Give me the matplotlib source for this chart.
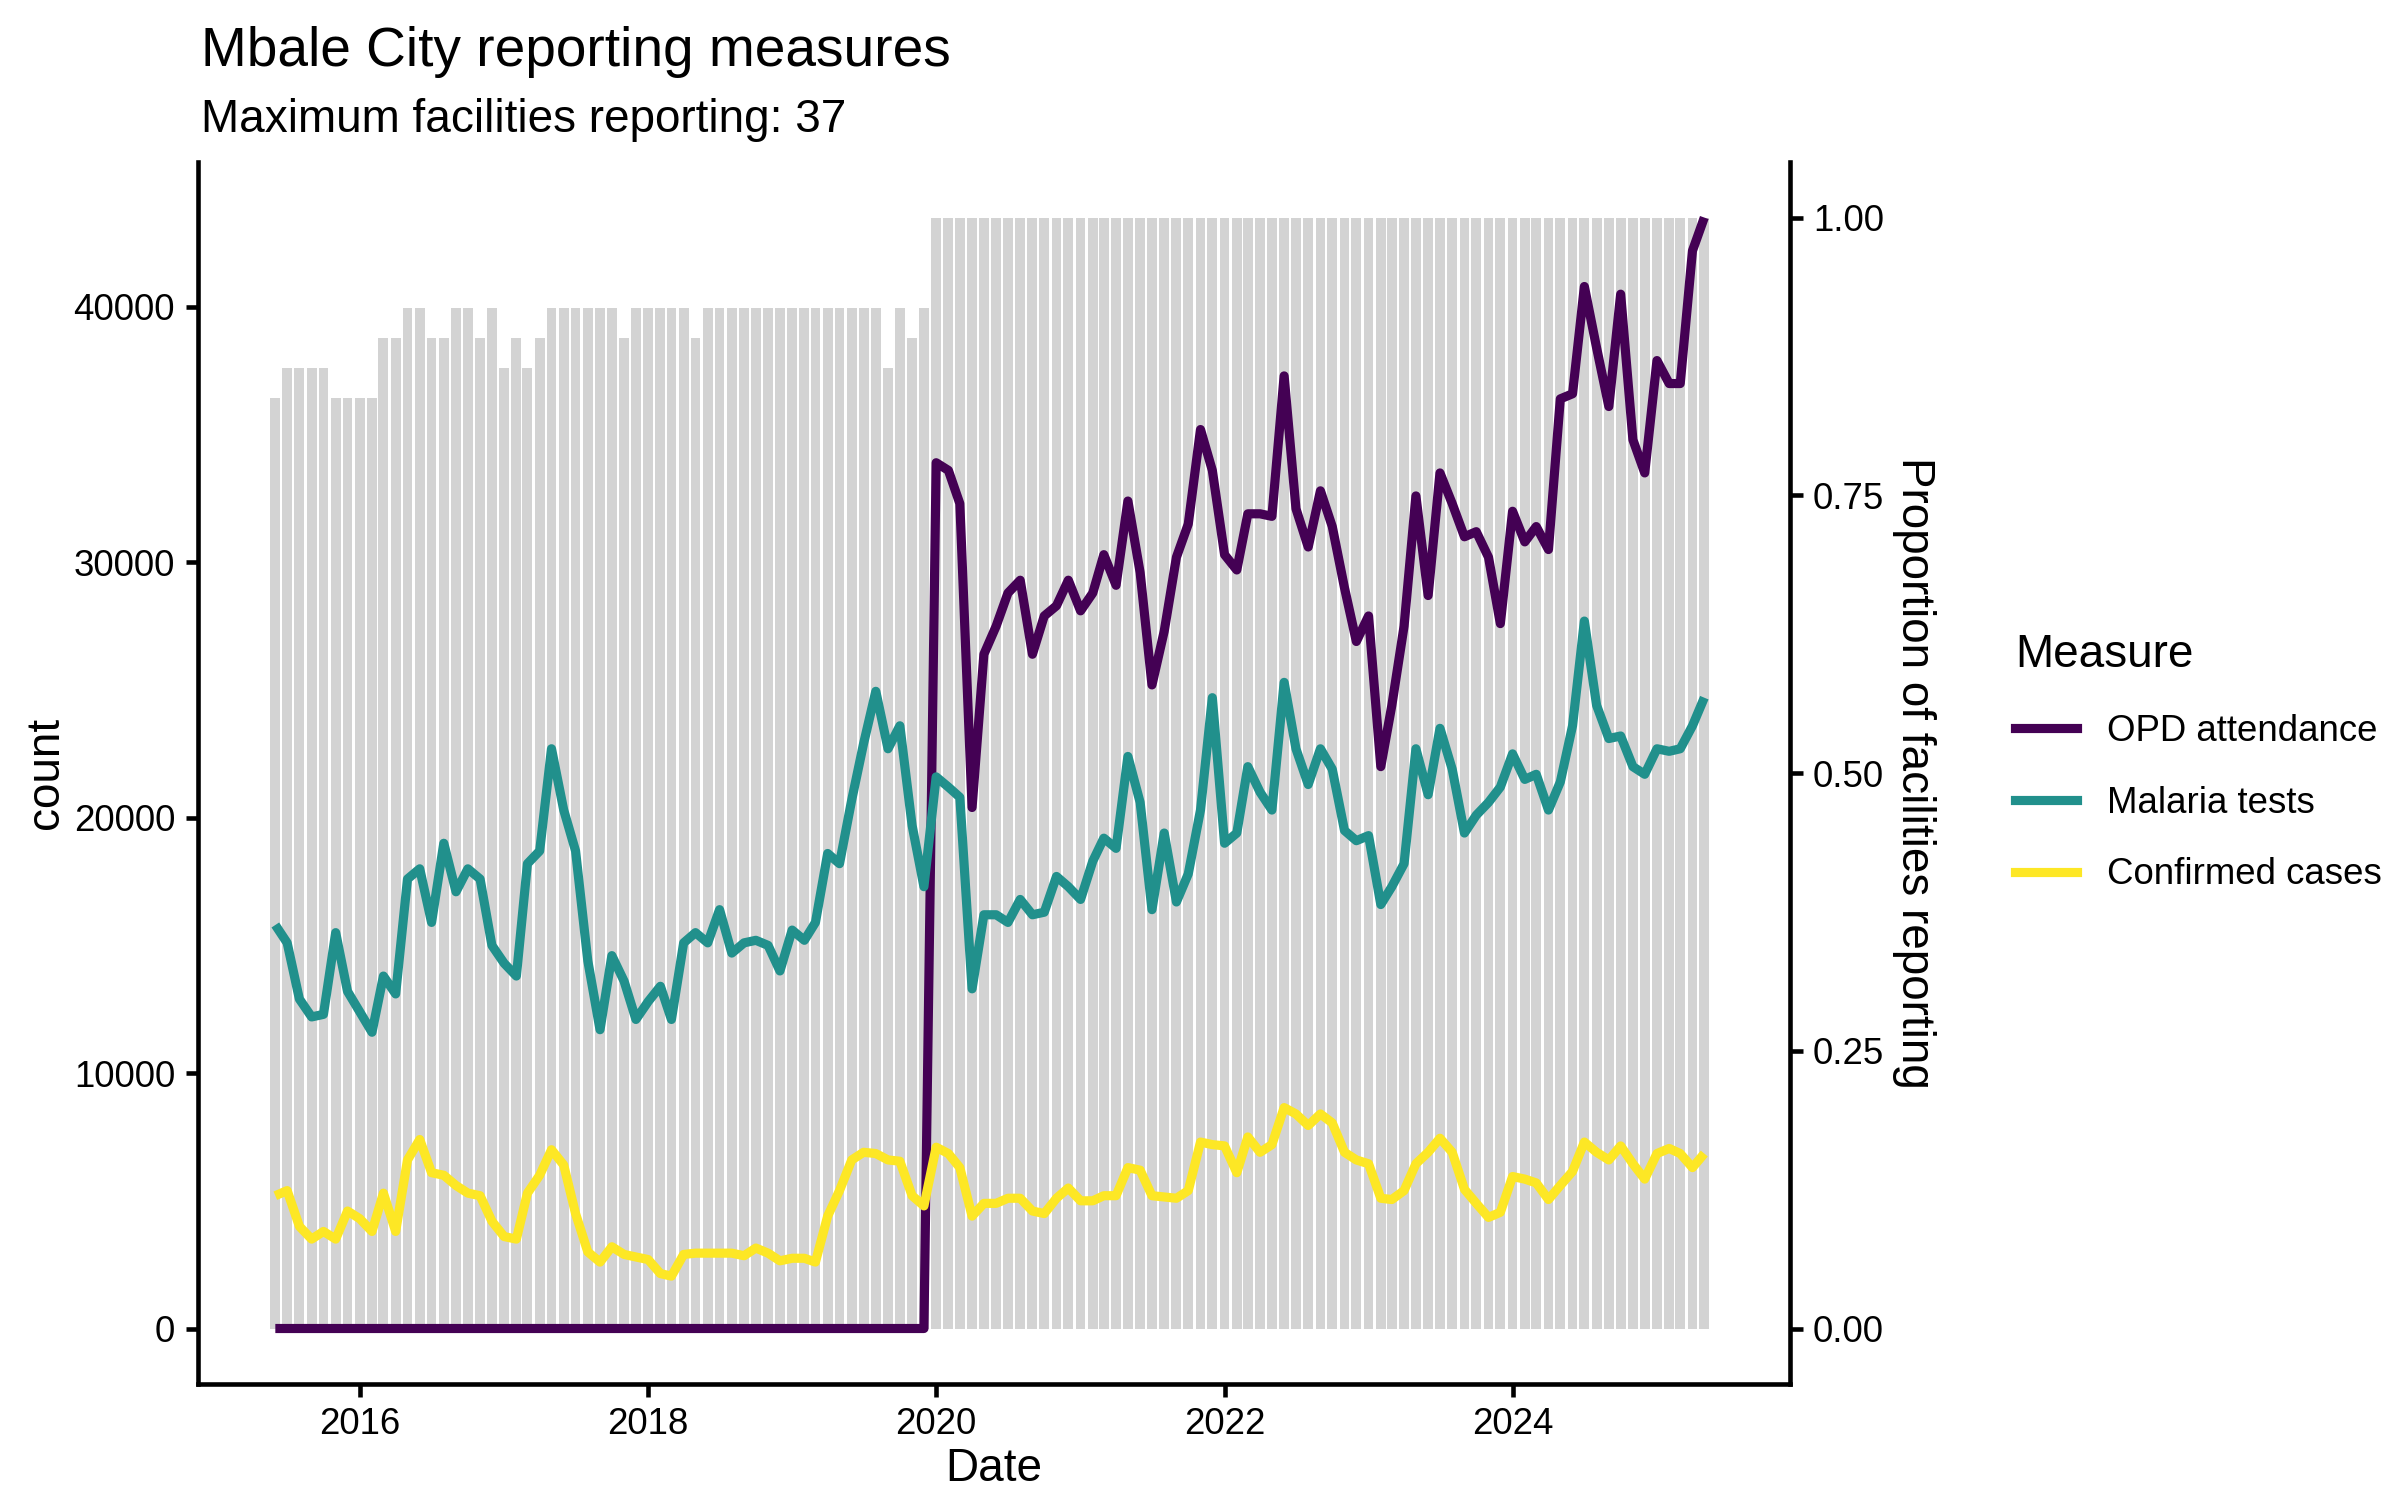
import matplotlib
matplotlib.use("Agg")
import matplotlib.pyplot as plt
import matplotlib.dates as mdates
from matplotlib.lines import Line2D
import pandas as pd

plt.rcParams["font.family"] = ["Liberation Sans", "DejaVu Sans"]

# Месяцы: 2015-06 .. 2025-05
dates = pd.date_range("2015-06-01", periods=120, freq="MS")

max_facilities = 37

# Число отчитавшихся учреждений по месяцам
facilities = [
    31, 32, 32, 32, 32, 31, 31, 31, 31, 33, 33, 34, 34, 33, 33, 34, 34, 33, 34, 32,
    33, 32, 33, 34, 34, 34, 34, 34, 34, 33, 34, 34, 34, 34, 34, 33, 34, 34, 34, 34,
    34, 34, 34, 34, 34, 34, 34, 34, 34, 34, 34, 32, 34, 33, 34, 37, 37, 37, 37, 37,
    37, 37, 37, 37, 37, 37, 37, 37, 37, 37, 37, 37, 37, 37, 37, 37, 37, 37, 37, 37,
    37, 37, 37, 37, 37, 37, 37, 37, 37, 37, 37, 37, 37, 37, 37, 37, 37, 37, 37, 37,
    37, 37, 37, 37, 37, 37, 37, 37, 37, 37, 37, 37, 37, 37, 37, 37, 37, 37, 37, 37,
]

opd_attendance = [
    0, 0, 0, 0, 0, 0, 0, 0, 0, 0, 0, 0, 0, 0, 0, 0, 0, 0, 0, 0,
    0, 0, 0, 0, 0, 0, 0, 0, 0, 0, 0, 0, 0, 0, 0, 0, 0, 0, 0, 0,
    0, 0, 0, 0, 0, 0, 0, 0, 0, 0, 0, 0, 0, 0, 0, 33900, 33600, 32300, 20400, 26400,
    27500, 28800, 29300, 26400, 27900, 28300, 29300, 28100, 28800, 30300, 29100, 32400, 29600, 25200, 27300, 30200, 31500, 35200, 33600, 30300,
    29700, 31900, 31900, 31800, 37300, 32100, 30600, 32800, 31400, 29000, 26900, 27900, 22000, 24400, 27500, 32600, 28700, 33500, 32300, 31000,
    31200, 30200, 27600, 32000, 30800, 31400, 30500, 36400, 36600, 40800, 38400, 36100, 40500, 34800, 33500, 37900, 37000, 37000, 42200, 43500,
]

malaria_tests = [
    15800, 15100, 12900, 12200, 12300, 15500, 13200, 12400, 11600, 13800, 13100, 17600, 18000, 15900, 19000, 17100, 18000, 17600, 15000, 14300,
    13800, 18200, 18700, 22700, 20300, 18700, 14400, 11700, 14600, 13600, 12100, 12800, 13400, 12100, 15100, 15500, 15100, 16400, 14700, 15100,
    15200, 15000, 14000, 15600, 15200, 15900, 18600, 18200, 20700, 22900, 24950, 22700, 23600, 19700, 17300, 21600, 21200, 20800, 13300, 16200,
    16200, 15900, 16800, 16200, 16300, 17700, 17300, 16800, 18300, 19200, 18800, 22400, 20600, 16400, 19400, 16700, 17800, 20300, 24700, 19000,
    19400, 22000, 21000, 20300, 25300, 22700, 21300, 22700, 21900, 19500, 19100, 19300, 16600, 17300, 18200, 22700, 20900, 23500, 21900, 19400,
    20100, 20600, 21200, 22500, 21500, 21700, 20300, 21400, 23600, 27700, 24400, 23100, 23200, 22000, 21700, 22700, 22600, 22700, 23600, 24700,
]

confirmed_cases = [
    5200, 5400, 4000, 3500, 3800, 3500, 4600, 4300, 3800, 5300, 3800, 6600, 7400, 6100, 6000, 5600, 5300, 5200, 4200, 3600,
    3500, 5300, 6000, 7000, 6400, 4500, 3000, 2600, 3200, 2900, 2800, 2700, 2150, 2050, 2900, 2950, 2950, 2950, 2950, 2850,
    3150, 2950, 2650, 2750, 2750, 2600, 4400, 5400, 6600, 6900, 6850, 6600, 6550, 5200, 4800, 7100, 6850, 6300, 4400, 4900,
    4900, 5100, 5100, 4600, 4500, 5100, 5500, 5000, 5000, 5200, 5200, 6300, 6200, 5200, 5150, 5100, 5400, 7300, 7200, 7150,
    6100, 7500, 6900, 7200, 8650, 8400, 7950, 8400, 8050, 6900, 6600, 6450, 5100, 5050, 5400, 6450, 6900, 7450, 6900, 5450,
    4900, 4350, 4550, 5950, 5850, 5700, 5050, 5600, 6150, 7300, 6900, 6600, 7150, 6450, 5850, 6850, 7050, 6850, 6300, 6850,
]

measures = ["OPD attendance", "Malaria tests", "Confirmed cases"]
colors = ["#440154", "#21908C", "#FDE725"]

# Вторичная ось: доля учреждений, масштаб по максимуму счётчика
scale = max(opd_attendance)
bar_heights = [f / max_facilities * scale for f in facilities]

fig = plt.figure(figsize=(8, 5), dpi=300)
ax = fig.add_axes([0.0825, 0.0773, 0.6633, 0.8147])

ax.bar(dates, bar_heights, width=25, color="#D3D3D3", zorder=1)
for series, col in zip([opd_attendance, malaria_tests, confirmed_cases], colors):
    ax.plot(dates, series, color=col, linewidth=2.2, zorder=3,
            solid_joinstyle="round", solid_capstyle="butt")

ax.set_xlim(pd.Timestamp("2015-06-01") - pd.Timedelta(days=196),
            pd.Timestamp("2025-05-01") + pd.Timedelta(days=217))
ax.set_ylim(-0.05 * scale, 1.05 * scale)
ax.set_yticks([0, 10000, 20000, 30000, 40000])
ax.set_yticklabels(["0", "10000", "20000", "30000", "40000"])
ax.xaxis.set_major_locator(mdates.YearLocator(2))
ax.xaxis.set_major_formatter(mdates.DateFormatter("%Y"))

ax2 = ax.twinx()
ax2.set_ylim(-0.05, 1.05)
ax2.set_yticks([0, 0.25, 0.5, 0.75, 1.0])
ax2.set_yticklabels(["0.00", "0.25", "0.50", "0.75", "1.00"])

for a in (ax, ax2):
    a.spines["top"].set_visible(False)
    for s in a.spines.values():
        s.set_linewidth(1.1)
    a.tick_params(length=3, width=1.1, labelsize=8.8, pad=2.5, colors="black")
ax.spines["right"].set_visible(False)
ax2.spines["left"].set_visible(False)
ax2.spines["bottom"].set_visible(False)

fig.text(0.414, 0.0207, "Date", ha="center", va="center", fontsize=11)
fig.text(0.019, 0.4847, "count", ha="center", va="center", fontsize=11, rotation=90)
fig.text(0.7975, 0.4847, "Proportion of facilities reporting", ha="center", va="center",
         fontsize=11, rotation=270)

fig.text(0.0838, 0.956, "Mbale City reporting measures", fontsize=13.2, va="baseline")
fig.text(0.0838, 0.9117, "Maximum facilities reporting: 37", fontsize=11, va="baseline")

handles = [Line2D([0], [0], color=c, linewidth=2.2) for c in colors]
leg = fig.legend(handles, measures, title="Measure", loc="upper left",
                 bbox_to_anchor=(0.832, 0.59), frameon=False, fontsize=8.8,
                 title_fontsize=11, handlelength=1.7, handletextpad=0.8,
                 labelspacing=1.0, borderpad=0)
leg._legend_box.align = "left"

fig.savefig("out.png", dpi=300)
